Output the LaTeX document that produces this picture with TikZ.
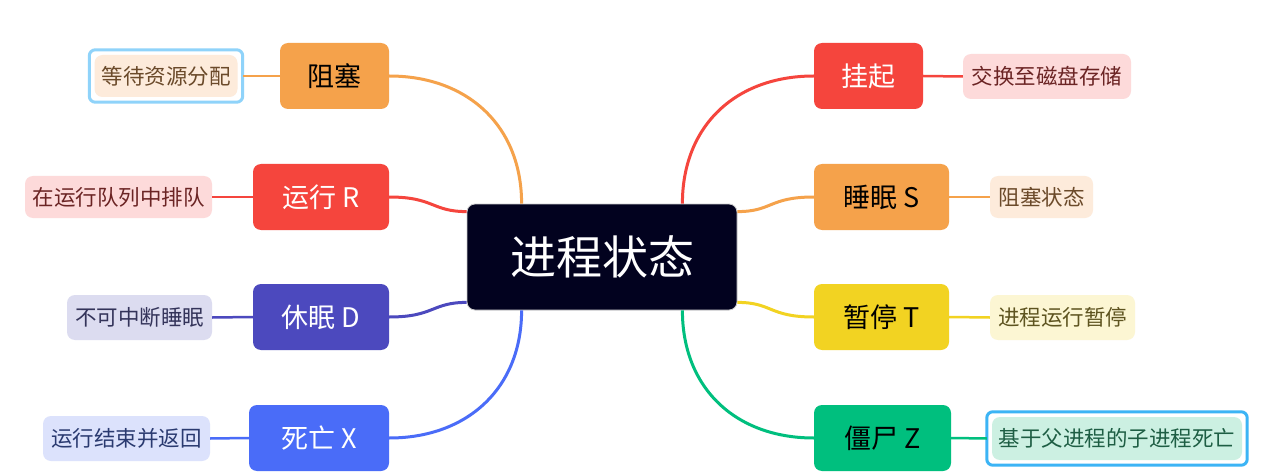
\documentclass[tikz,border=0pt]{standalone}
\usepackage{fontspec}
\setmainfont{Noto Sans CJK SC}
\usetikzlibrary{calc}
\definecolor{cOrange}{HTML}{F5A24B}
\definecolor{cRed}{HTML}{F5453D}
\definecolor{cPurple}{HTML}{4C49BE}
\definecolor{cBlue}{HTML}{4A6CF8}
\definecolor{cYellow}{HTML}{F2D322}
\definecolor{cGreen}{HTML}{00BF7E}
\definecolor{cNavy}{HTML}{02021F}
\definecolor{fOrange}{HTML}{FDEBDB}
\definecolor{fRed}{HTML}{FDDADA}
\definecolor{fPurple}{HTML}{DCDCF0}
\definecolor{fBlue}{HTML}{DCE2FC}
\definecolor{fYellow}{HTML}{FCF6D3}
\definecolor{fGreen}{HTML}{CCF0E2}
\definecolor{tOrange}{HTML}{6B4A2A}
\definecolor{tRed}{HTML}{6B2424}
\definecolor{tPurple}{HTML}{34345A}
\definecolor{tBlue}{HTML}{2A3A70}
\definecolor{tYellow}{HTML}{5E5420}
\definecolor{tGreen}{HTML}{1E5E44}
\definecolor{selA}{HTML}{8FD3FA}
\definecolor{selB}{HTML}{3CB4F5}
\tikzset{
  root/.style={fill=cNavy, draw=gray!40, line width=0.8pt, rounded corners=8pt, text=white,
    minimum width=270pt, minimum height=106pt, inner sep=0pt, font=\fontsize{46}{50}\selectfont},
  branch/.style={rounded corners=8pt, minimum height=66pt, inner sep=0pt, font=\fontsize{27}{30}\selectfont},
  leaf/.style={rounded corners=8pt, inner sep=0pt, font=\fontsize{21.5}{24}\selectfont},
  link/.style={line width=3pt},
  leaflink/.style={line width=2.5pt},
  selframe/.style={rounded corners=6pt, line width=3pt},
}
\begin{document}
\begin{tikzpicture}[x=1pt,y=-1pt]
\useasboundingbox (0,0) rectangle (1267,476);
\fill[white] (0,0) rectangle (1267,476);

% root
\node[root] (c) at (602,257) {进程状态};
\coordinate (cNW) at ($(c.north west)+(55,0)$);
\coordinate (cNE) at ($(c.north east)+(-55,0)$);
\coordinate (cSW) at ($(c.south west)+(55,0)$);
\coordinate (cSE) at ($(c.south east)+(-55,0)$);
\coordinate (cW1) at ($(c.north west)+(0,8)$);
\coordinate (cW2) at ($(c.south west)+(0,-8)$);
\coordinate (cE1) at ($(c.north east)+(0,8)$);
\coordinate (cE2) at ($(c.south east)+(0,-8)$);

% branches left
\node[branch, fill=cOrange, text=black, minimum width=109pt] (b1) at (334.5,76) {阻塞};
\node[branch, fill=cRed, text=white, minimum width=136pt] (b2) at (321,197) {运行 R};
\node[branch, fill=cPurple, text=white, minimum width=136pt] (b3) at (321,317) {休眠 D};
\node[branch, fill=cBlue, text=white, minimum width=140pt] (b4) at (319,438) {死亡 X};
% branches right
\node[branch, fill=cRed, text=white, minimum width=109pt] (r1) at (868.5,76) {挂起};
\node[branch, fill=cOrange, text=black, minimum width=135pt] (r2) at (881.5,197) {睡眠 S};
\node[branch, fill=cYellow, text=black, minimum width=135pt] (r3) at (881.5,317) {暂停 T};
\node[branch, fill=cGreen, text=black, minimum width=137pt] (r4) at (882.5,438) {僵尸 Z};

% leaves left
\node[leaf, fill=fOrange, text=tOrange, minimum width=143pt, minimum height=42pt] (l1) at (166,76) {等待资源分配};
\node[leaf, fill=fRed, text=tRed, minimum width=187pt, minimum height=42pt] (l2) at (118.5,197) {在运行队列中排队};
\node[leaf, fill=fPurple, text=tPurple, minimum width=145pt, minimum height=45pt] (l3) at (139.5,317.5) {不可中断睡眠};
\node[leaf, fill=fBlue, text=tBlue, minimum width=167pt, minimum height=45pt] (l4) at (126.5,438.5) {运行结束并返回};
% leaves right
\node[leaf, fill=fRed, text=tRed, minimum width=168pt, minimum height=45pt] (m1) at (1047,76.5) {交换至磁盘存储};
\node[leaf, fill=fOrange, text=tOrange, minimum width=103pt, minimum height=42pt] (m2) at (1041.5,197) {阻塞状态};
\node[leaf, fill=fYellow, text=tYellow, minimum width=145pt, minimum height=45pt] (m3) at (1062.5,317.5) {进程运行暂停};
\node[leaf, fill=fGreen, text=tGreen, minimum width=250pt, minimum height=43pt] (m4) at (1117,438.5) {基于父进程的子进程死亡};

% selection frames
\draw[selframe, draw=selA] ($(l1.north west)+(-5,-5)$) rectangle ($(l1.south east)+(5,5)$);
\draw[selframe, draw=selB] ($(m4.north west)+(-5,-5)$) rectangle ($(m4.south east)+(5,5)$);

% connectors
\begin{scope}[on background layer/.style={}]
\end{scope}
\draw[link, cOrange] (b1.east) .. controls +(78,0) and +(0,-78) .. (cNW);
\draw[link, cRed] (b2.east) .. controls +(45,0) and +(-35,0) .. (cW1);
\draw[link, cPurple] (b3.east) .. controls +(45,0) and +(-35,0) .. (cW2);
\draw[link, cBlue] (b4.east) .. controls +(78,0) and +(0,78) .. (cSW);
\draw[link, cRed] (r1.west) .. controls +(-78,0) and +(0,-78) .. (cNE);
\draw[link, cOrange] (r2.west) .. controls +(-45,0) and +(35,0) .. (cE1);
\draw[link, cYellow] (r3.west) .. controls +(-45,0) and +(35,0) .. (cE2);
\draw[link, cGreen] (r4.west) .. controls +(-78,0) and +(0,78) .. (cSE);

\draw[leaflink, cOrange] (b1.west) -- ($(l1.east)+(5,0)$);
\draw[leaflink, cRed] (b2.west) -- (l2.east);
\draw[leaflink, cPurple] (b3.west) -- (l3.east);
\draw[leaflink, cBlue] (b4.west) -- (l4.east);
\draw[leaflink, cRed] (r1.east) -- (m1.west);
\draw[leaflink, cOrange] (r2.east) -- (m2.west);
\draw[leaflink, cYellow] (r3.east) -- (m3.west);
\draw[leaflink, cGreen] (r4.east) -- ($(m4.west)+(-5,0)$);
\end{tikzpicture}
\end{document}
